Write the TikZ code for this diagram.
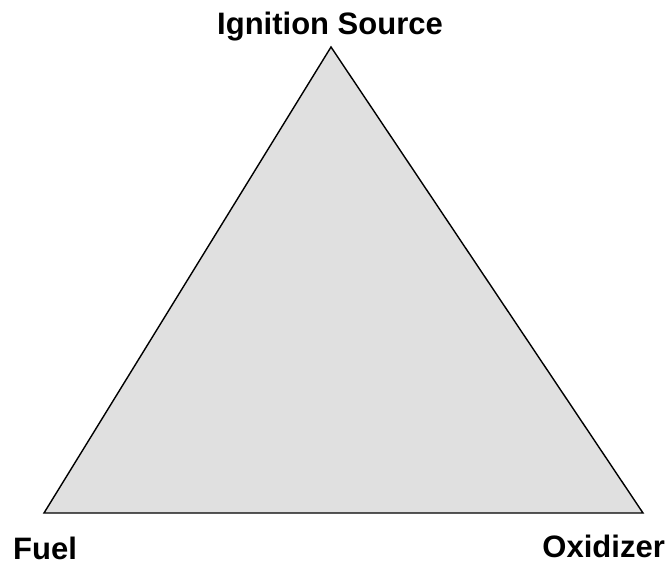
\documentclass[tikz,border=0pt]{standalone}
\usepackage{fontspec}
\setmainfont{Liberation Sans}
\begin{document}
\begin{tikzpicture}[x=1pt,y=-1pt,
  lbl/.style={font=\fontsize{31}{33}\selectfont\bfseries, inner sep=0pt},
  tri/.style={draw=black, fill={rgb,255:red,224;green,224;blue,224}, line width=1.4pt, line join=miter}]
\useasboundingbox (0,0) rectangle (667,563);
\coordinate (top) at (331,47);
\coordinate (bl) at (44,513);
\coordinate (br) at (643,513);
\draw[tri] (top) -- (bl) -- (br) -- cycle;
\node[lbl, anchor=base] (ign) at (330,34) {Ignition Source};
\node[lbl, anchor=base west] (fuel) at (13,559) {Fuel};
\node[lbl, anchor=base east] (oxi) at (665,557) {Oxidizer};
\end{tikzpicture}
\end{document}
